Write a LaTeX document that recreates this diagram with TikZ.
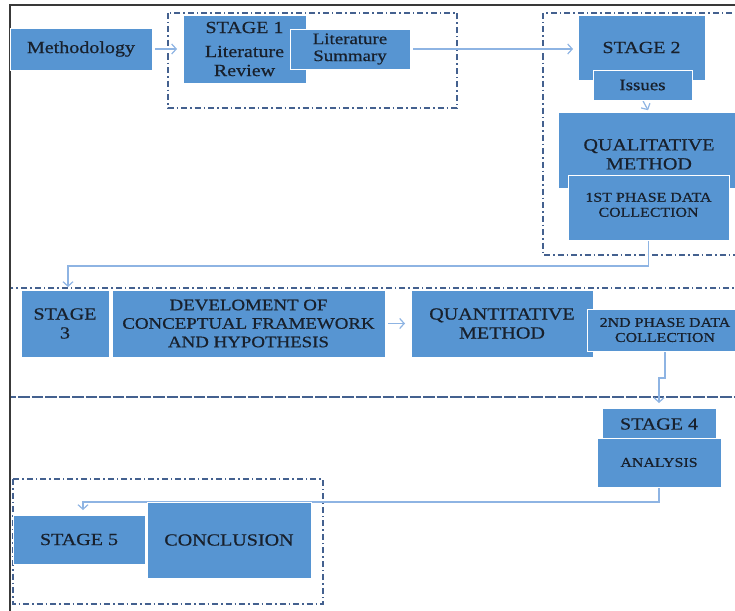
\documentclass[tikz,border=0pt]{standalone}
\usepackage{fontspec}
\setmainfont{Liberation Serif}[FakeStretch=1.18,FakeBold=0.6]
\usetikzlibrary{arrows.meta}
\definecolor{boxblue}{HTML}{5795D2}
\definecolor{txtcol}{HTML}{18202C}
\definecolor{conncol}{HTML}{8EB4E3}
\definecolor{grpcol}{HTML}{44618F}
\pgfdeclarelayer{background}
\pgfsetlayers{background,main}
\tikzset{
  box/.style={draw=white, line width=0.9pt, fill=boxblue, text=txtcol, anchor=north west,
    inner sep=0pt, outer sep=0pt, align=center, font=\fontsize{17}{19}\selectfont},
  smalltxt/.style={font=\fontsize{13.5}{15}\selectfont},
  devtxt/.style={font=\fontsize{16}{18.5}\selectfont},
  conn/.style={draw=conncol, line width=1.2pt, -{Straight Barb[length=4.5pt,width=10pt]}},
  grp/.style={draw=grpcol, line width=1.2pt, dash pattern=on 6pt off 3pt on 1.5pt off 3pt},
  frame/.style={draw=gray!45!black, line width=1.8pt}
}
\begin{document}
\begin{tikzpicture}[x=1pt,y=-1pt]
\useasboundingbox (0,0) rectangle (735,610);
\clip (0,0) rectangle (735,610);
% nodes
\node[box, minimum width=142pt, minimum height=42pt] (meth) at (10,28) {Methodology};
\node[box, minimum width=123pt, minimum height=68pt] (st1) at (183,15) {STAGE 1\\[5pt]Literature\\Review};
\node[box, minimum width=120pt, minimum height=40pt, font=\fontsize{16}{17}\selectfont] (lsum) at (290,29) {Literature\\Summary};
\node[box, minimum width=127pt, minimum height=65pt] (st2) at (578,15) {STAGE 2};
\node[box, minimum width=99pt, minimum height=30pt, font=\fontsize{16}{18}\selectfont] (iss) at (593,70) {Issues};
\node[box, minimum width=182pt, minimum height=76pt] (qual) at (558,112) {\rule{0pt}{20pt}QUALITATIVE\\METHOD};
\node[box, minimum width=161pt, minimum height=65pt, smalltxt] (p1) at (568,175) {1ST PHASE DATA\\COLLECTION\\[-14pt]\strut};
\node[box, minimum width=88pt, minimum height=67pt] (st3) at (21,290) {STAGE\\3};
\node[box, minimum width=273pt, minimum height=67pt, devtxt] (dev) at (112,290) {DEVELOMENT OF\\CONCEPTUAL FRAMEWORK\\AND HYPOTHESIS};
\node[box, minimum width=182pt, minimum height=67pt] (quant) at (411,290) {QUANTITATIVE\\METHOD};
\node[box, minimum width=156pt, minimum height=42pt, smalltxt] (p2) at (587,309) {2ND PHASE DATA\\COLLECTION};
\node[box, minimum width=114pt, minimum height=32pt] (st4) at (602,408) {STAGE 4};
\node[box, minimum width=124pt, minimum height=49pt, smalltxt] (ana) at (597,438) {ANALYSIS};
\node[box, minimum width=132pt, minimum height=49pt] (st5) at (13,515) {STAGE 5};
\node[box, minimum width=164pt, minimum height=76pt] (conc) at (147,502) {CONCLUSION};
\begin{pgfonlayer}{background}
  % groups
  \draw[grp] (168,13) rectangle (457,108);
  \draw[grp] (543,13) rectangle (760,255);
  \draw[grp] (10,288) rectangle (760,397);
  \draw[grp] (10,397) rectangle (760,640);
  \draw[grp] (13,479) rectangle (323,604);
  % connectors
  \draw[conn, shorten <=3pt, shorten >=6pt] (meth.east) -- (st1.west);
  \draw[conn, shorten <=3pt, shorten >=5pt] (lsum.east) -- (lsum.east -| st2.west);
  \draw[conn, shorten >=2pt] (iss.south) -- (qual.north);
  \draw[conn, shorten >=3pt] (p1.south) -- ++(0,26) -| ([xshift=3pt]st3.north);
  \draw[conn, shorten <=3pt, shorten >=6pt] (dev.east) -- (quant.west);
  \draw[conn, shorten >=5pt] (p2.south) -- ++(0,27) -| (st4.north);
  \draw[conn, shorten >=5pt] (ana.south) -- ++(0,15) -| ([xshift=4pt]st5.north);
  % outer frame
  \draw[frame] (10,640) -- (10,5) -- (760,5);
\end{pgfonlayer}
\end{tikzpicture}
\end{document}
